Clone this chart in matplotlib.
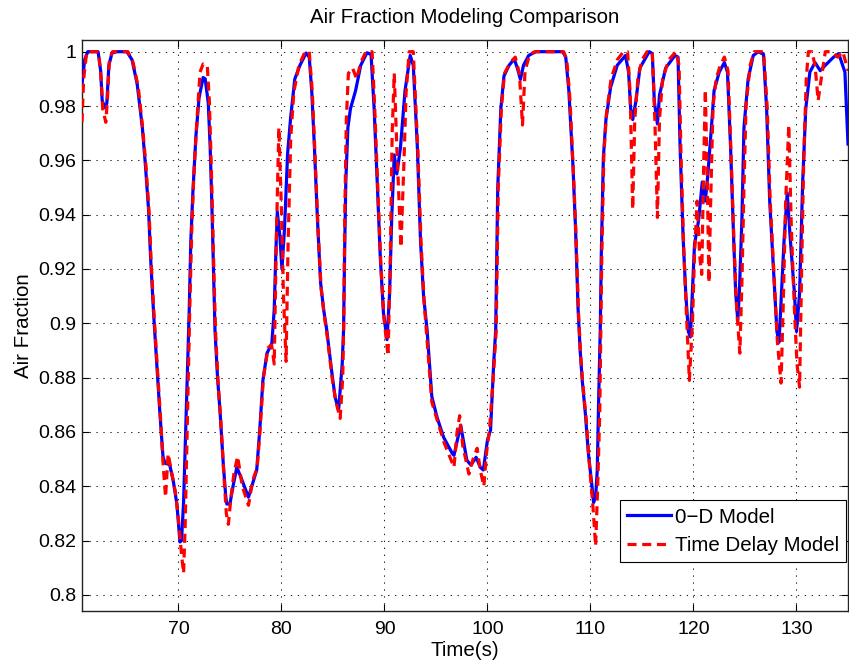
import matplotlib
matplotlib.use("Agg")
import matplotlib.pyplot as plt

# ---- data: air fraction vs time for the two models ----
t_0d = [60.64, 60.9, 61.2, 62.2, 62.45, 62.6, 62.85, 63.05, 63.25, 63.55, 64.0, 65.0,
        65.5, 66.0, 66.5, 66.8, 67.1, 67.3, 67.6, 67.9, 68.2, 68.5, 68.7, 69.15, 69.5,
        69.85, 70.15, 70.3, 70.5, 70.8, 71.05, 71.2, 71.4, 71.7, 72.0, 72.4, 72.6, 72.9,
        73.08, 73.24, 73.4, 73.55, 73.8, 74.05, 74.35, 74.6, 74.7, 75.0, 75.3, 75.67,
        76.2, 76.8, 77.2, 77.6, 77.9, 78.2, 78.6, 79.07, 79.3, 79.45, 79.6, 79.85, 80.05,
        80.3, 80.6, 80.9, 81.3, 81.8, 82.4, 82.7, 82.95, 83.2, 83.5, 83.8, 84.1, 84.4,
        84.9, 85.2, 85.55, 85.9, 86.03, 86.15, 86.25, 86.45, 86.7, 87.2, 87.7, 88.3,
        88.7, 89.0, 89.3, 89.6, 89.9, 90.25, 90.5, 90.7, 90.95, 91.2, 91.55, 92.0, 92.5,
        92.8, 93.2, 93.5, 93.8, 94.14, 94.6, 95.1, 95.75, 96.6, 96.75, 97.4, 98.0, 98.4,
        98.9, 99.3, 99.6, 100.0, 100.3, 100.6, 100.8, 100.9, 101.0, 101.3, 101.6, 102.1,
        102.6, 102.9, 103.2, 103.5, 104.0, 104.7, 107.3, 107.6, 107.9, 108.3, 108.55,
        108.8, 109.0, 109.2, 109.5, 109.8, 110.15, 110.3, 110.5, 110.66, 110.8, 110.95,
        111.05, 111.25, 111.5, 111.96, 112.6, 113.4, 113.7, 113.9, 114.1, 114.4, 114.8,
        115.7, 116.0, 116.2, 116.5, 116.7, 117.3, 118.2, 118.5, 118.7, 119.0, 119.25,
        119.5, 119.7, 119.9, 120.1, 120.5, 120.85, 121.15, 121.4, 121.7, 122.0, 122.5,
        123.0, 123.3, 123.6, 123.9, 124.1, 124.3, 124.45, 124.7, 124.9, 125.3, 125.8,
        126.3, 126.8, 127.1, 127.4, 127.8, 128.1, 128.3, 128.45, 128.8, 129.1, 129.4,
        129.8, 130.0, 130.3, 130.6, 130.9, 131.3, 131.8, 132.3, 132.8, 133.6, 134.1,
        134.7, 135.0]
af_0d = [0.988, 0.997, 1.0, 1.0, 0.993, 0.982, 0.9795, 0.981, 0.995, 0.9995, 1.0, 1.0,
         0.997, 0.988, 0.972, 0.958, 0.942, 0.924, 0.903, 0.885, 0.867, 0.851, 0.8485,
         0.848, 0.842, 0.8335, 0.8195, 0.820, 0.834, 0.873, 0.905, 0.930, 0.948, 0.969,
         0.983, 0.9905, 0.990, 0.981, 0.965, 0.9447, 0.92, 0.8975, 0.88, 0.867, 0.8485,
         0.836, 0.8335, 0.8335, 0.840, 0.847, 0.842, 0.836, 0.841, 0.846, 0.861, 0.879,
         0.889, 0.8927, 0.905, 0.925, 0.941, 0.932, 0.920, 0.935, 0.9625, 0.976, 0.99,
         0.995, 0.9995, 0.998, 0.985, 0.965, 0.938, 0.915, 0.905, 0.8975, 0.8817, 0.873,
         0.868, 0.885, 0.8975, 0.93, 0.952, 0.972, 0.979, 0.9857, 0.995, 0.9996, 0.999,
         0.979, 0.952, 0.924, 0.904, 0.894, 0.911, 0.938, 0.962, 0.955, 0.9645, 0.9857,
         0.9986, 0.995, 0.9645, 0.9305, 0.91, 0.8975, 0.873, 0.8655, 0.858, 0.852, 0.8514,
         0.8625, 0.8496, 0.8478, 0.8507, 0.847, 0.846, 0.857, 0.8607, 0.885, 0.8975,
         0.925, 0.950, 0.979, 0.991, 0.995, 0.9973, 0.994, 0.9898, 0.995, 0.9986, 1.0,
         1.0, 0.998, 0.9857, 0.958, 0.935, 0.905, 0.890, 0.879, 0.867, 0.852, 0.840,
         0.834, 0.836, 0.846, 0.873, 0.8975, 0.925, 0.961, 0.975, 0.987, 0.995, 0.9986,
         0.9925, 0.979, 0.975, 0.9816, 0.994, 1.0, 0.9993, 0.9816, 0.9734, 0.984, 0.994,
         0.9986, 0.998, 0.965, 0.931, 0.911, 0.897, 0.895, 0.912, 0.929, 0.938, 0.952,
         0.945, 0.955, 0.970, 0.9857, 0.9925, 0.996, 0.9925, 0.965, 0.931, 0.911, 0.901,
         0.911, 0.938, 0.972, 0.9898, 0.9986, 1.0, 0.999, 0.979, 0.945, 0.9175, 0.897,
         0.893, 0.904, 0.931, 0.948, 0.931, 0.911, 0.897, 0.911, 0.952, 0.979, 0.9925,
         0.996, 0.993, 0.995, 0.998, 0.9993, 0.9925, 0.966]

t_delay = [60.64, 60.8, 61.1, 62.25, 62.5, 62.65, 62.95, 63.1, 63.3, 63.6, 65.1, 65.6,
           66.1, 66.5, 66.85, 67.15, 67.35, 67.65, 67.95, 68.25, 68.5, 68.75, 69.0, 69.3,
           69.7, 70.0, 70.3, 70.5, 70.65, 70.9, 71.1, 71.3, 71.5, 71.8, 72.1, 72.4, 72.8,
           73.0, 73.15, 73.3, 73.45, 73.6, 73.85, 74.1, 74.4, 74.65, 74.85, 75.1, 75.4,
           75.75, 76.2, 76.8, 77.2, 77.65, 77.95, 78.25, 78.7, 79.05, 79.3, 79.5, 79.75,
           80.0, 80.2, 80.45, 80.65, 80.9, 81.2, 81.7, 82.3, 82.7, 83.0, 83.25, 83.55,
           83.85, 84.15, 84.45, 84.95, 85.3, 85.7, 85.95, 86.05, 86.15, 86.3, 86.5, 86.9,
           87.3, 87.7, 88.2, 88.8, 89.05, 89.35, 89.65, 89.95, 90.35, 90.55, 90.75, 90.95,
           91.2, 91.6, 91.9, 92.1, 92.4, 92.8, 93.25, 93.55, 93.85, 94.15, 94.6, 95.15,
           95.8, 96.75, 97.05, 97.3, 97.6, 98.2, 98.6, 99.0, 99.3, 99.65, 99.9, 100.2,
           100.6, 100.85, 100.95, 101.05, 101.35, 101.65, 102.2, 102.7, 103.1, 103.4,
           103.65, 104.1, 104.6, 107.4, 107.7, 108.0, 108.35, 108.6, 108.85, 109.05, 109.3,
           109.6, 109.9, 110.25, 110.5, 110.7, 110.9, 111.0, 111.1, 111.3, 111.55, 112.0,
           112.6, 113.2, 113.6, 113.85, 114.1, 114.3, 114.6, 115.0, 115.5, 116.0, 116.25,
           116.5, 116.7, 117.0, 117.6, 118.3, 118.6, 118.8, 119.05, 119.3, 119.6, 119.9,
           120.1, 120.35, 120.6, 120.8, 121.0, 121.15, 121.35, 121.5, 121.7, 121.9, 122.2,
           122.6, 123.0, 123.35, 123.65, 123.95, 124.2, 124.5, 124.7, 124.9, 125.1, 125.5,
           125.9, 126.8, 127.15, 127.45, 127.85, 128.15, 128.5, 128.7, 128.95, 129.25,
           129.5, 129.8, 130.05, 130.3, 130.5, 130.7, 130.95, 131.15, 131.5, 131.8, 132.1,
           132.4, 132.8, 133.4, 134.0, 134.5, 135.0]
af_delay = [0.974, 0.99, 1.0, 1.0, 0.99, 0.979, 0.974, 0.982, 0.997, 1.0, 1.0, 0.996,
            0.987, 0.973, 0.958, 0.941, 0.923, 0.902, 0.884, 0.866, 0.849, 0.836, 0.852,
            0.846, 0.838, 0.828, 0.815, 0.808, 0.825, 0.87, 0.905, 0.935, 0.955, 0.975,
            0.9925, 0.9955, 0.995, 0.982, 0.963, 0.942, 0.918, 0.8975, 0.878, 0.865, 0.845,
            0.830, 0.826, 0.836, 0.845, 0.851, 0.84, 0.833, 0.842, 0.847, 0.862, 0.88,
            0.891, 0.892, 0.885, 0.93, 0.972, 0.942, 0.91, 0.886, 0.93, 0.968, 0.985, 0.995,
            1.0, 1.0, 0.985, 0.963, 0.935, 0.913, 0.903, 0.895, 0.879, 0.871, 0.865, 0.88,
            0.90, 0.94, 0.975, 0.992, 0.994, 0.99, 0.996, 1.0, 1.0, 0.98, 0.95, 0.922,
            0.902, 0.888, 0.92, 0.97, 0.992, 0.965, 0.928, 0.96, 0.985, 1.0, 1.0, 0.963,
            0.93, 0.908, 0.893, 0.871, 0.864, 0.856, 0.847, 0.86, 0.866, 0.855, 0.8445,
            0.85, 0.854, 0.846, 0.840, 0.852, 0.861, 0.882, 0.8975, 0.925, 0.95, 0.979,
            0.992, 0.996, 0.998, 0.992, 0.973, 0.993, 0.999, 1.0, 1.0, 0.997, 0.983, 0.955,
            0.932, 0.903, 0.888, 0.876, 0.864, 0.848, 0.832, 0.818, 0.84, 0.867, 0.8975,
            0.925, 0.962, 0.977, 0.99, 0.997, 1.0, 1.0, 0.985, 0.942, 0.975, 0.99, 0.997,
            1.0, 1.0, 0.975, 0.939, 0.975, 0.99, 0.997, 1.0, 0.995, 0.96, 0.928, 0.905,
            0.879, 0.90, 0.925, 0.945, 0.925, 0.918, 0.96, 0.986, 0.95, 0.915, 0.95, 0.98,
            0.99, 0.995, 0.998, 0.993, 0.962, 0.928, 0.905, 0.889, 0.915, 0.95, 0.98, 0.995,
            1.0, 1.0, 0.98, 0.945, 0.915, 0.893, 0.878, 0.905, 0.945, 0.973, 0.935, 0.905,
            0.885, 0.8765, 0.92, 0.96, 0.99, 1.0, 1.0, 0.995, 0.982, 0.99, 1.0, 1.0, 0.998,
            1.0, 0.993]

x_ticks = [70, 80, 90, 100, 110, 120, 130]
y_ticks = [0.8, 0.82, 0.84, 0.86, 0.88, 0.9, 0.92, 0.94, 0.96, 0.98, 1.0]
y_tick_labels = ["0.8", "0.82", "0.84", "0.86", "0.88", "0.9", "0.92", "0.94",
                 "0.96", "0.98", "1"]

plt.rcParams["font.family"] = ["Liberation Sans", "DejaVu Sans"]
plt.rcParams["lines.scale_dashes"] = False

W, H = 849, 662
fig = plt.figure(figsize=(W / 100, H / 100), dpi=100)
ax = fig.add_axes([82 / W, 51 / H, 766 / W, 571 / H])

ax.plot(t_0d, af_0d, color="#0000ff", lw=2.3, label="0\u2212D Model", zorder=3)
ax.plot(t_delay, af_delay, color="#ff0000", lw=2.3, dashes=(6.5, 4.1),
        label="Time Delay Model", zorder=4)

ax.set_xlim(60.64, 135.0)
ax.set_ylim(0.7941, 1.0043)
ax.set_xticks(x_ticks)
ax.set_xticklabels([str(v) for v in x_ticks])
ax.set_yticks(y_ticks)
ax.set_yticklabels(y_tick_labels)

ax.grid(True, color="black", lw=0.75, linestyle=(0, (1, 4)), alpha=0.85)
ax.set_axisbelow(True)
ax.tick_params(direction="in", top=True, right=True, length=5, width=0.8,
               labelsize=14, colors="black")
ax.tick_params(axis="x", pad=7)
ax.tick_params(axis="y", pad=4)
for s in ax.spines.values():
    s.set_linewidth(1.0)
    s.set_color("#222222")

ax.set_title("Air Fraction Modeling Comparison", fontsize=14.8, pad=12)
ax.set_xlabel("Time(s)", fontsize=14.8, labelpad=2)
ax.set_ylabel("Air Fraction", fontsize=14.8, labelpad=4)

leg = ax.legend(loc="lower right", bbox_to_anchor=(0.9974, 0.0858), borderaxespad=0,
                fontsize=14.8, fancybox=False, framealpha=1, edgecolor="black",
                handlelength=2.1, handletextpad=0.2, labelspacing=0.45,
                borderpad=0.35)
leg.get_frame().set_linewidth(0.8)

fig.savefig("out.png", dpi=100)
